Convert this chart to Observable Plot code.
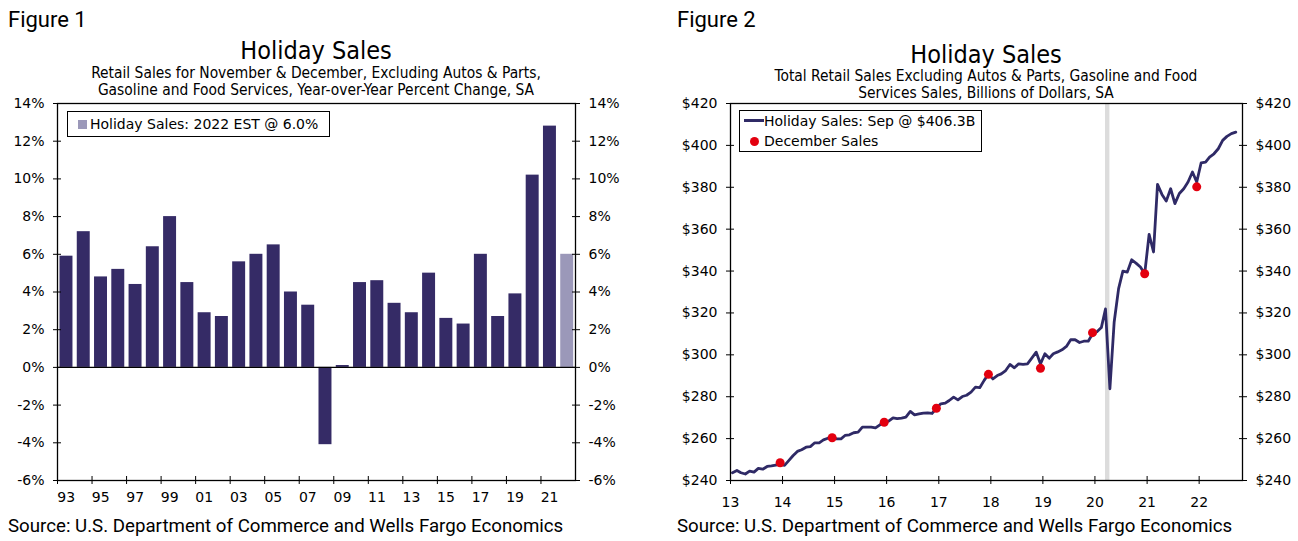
<!DOCTYPE html>
<html><head><meta charset="utf-8">
<script src="https://cdn.jsdelivr.net/npm/d3@7"></script>
<script src="https://cdn.jsdelivr.net/npm/@observablehq/plot@0.6"></script>
<style>
body{margin:0;background:#fff;}
#page{position:relative;width:1298px;height:541px;overflow:hidden;font-family:"DejaVu Sans",sans-serif;color:#000;background:#fff;}
.abs{position:absolute;white-space:nowrap;}
.fig{font-family:Roboto,"Noto Sans",sans-serif;font-size:22px;line-height:24px;}
.title{font-family:"DejaVu Sans Condensed","DejaVu Sans",sans-serif;font-stretch:condensed;font-size:25px;line-height:28px;text-align:center;transform:translateX(-50%);}
.sub{font-family:"DejaVu Sans Condensed","DejaVu Sans",sans-serif;font-stretch:condensed;font-size:15.4px;line-height:17px;text-align:center;transform:translateX(-50%);}
.src{font-family:Roboto,"Noto Sans",sans-serif;font-size:18.7px;line-height:22px;}
.legend{position:absolute;border:1px solid #000;background:#fff;font-family:"DejaVu Sans",sans-serif;font-size:14px;line-height:16px;box-sizing:border-box;}
.legend span{position:absolute;white-space:nowrap;}
svg{position:absolute;}
</style></head>
<body><div id="page"></div>
<script>
// ---------- Figure 1 data ----------
const fig1Years = [1993,1994,1995,1996,1997,1998,1999,2000,2001,2002,2003,2004,2005,2006,2007,2008,2009,2010,2011,2012,2013,2014,2015,2016,2017,2018,2019,2020,2021,2022];
const fig1Values = [5.9,7.2,4.8,5.2,4.4,6.4,8.0,4.5,2.9,2.7,5.6,6.0,6.5,4.0,3.3,-4.1,0.1,4.5,4.6,3.4,2.9,5.0,2.6,2.3,6.0,2.7,3.9,10.2,12.8,6.0];
const fig1EstimateYear = 2022;
const fig1YTicks = [-6,-4,-2,0,2,4,6,8,10,12,14];
const fig1XTickYears = [1993,1995,1997,1999,2001,2003,2005,2007,2009,2011,2013,2015,2017,2019,2021];

// ---------- Figure 2 data (monthly, Jan 2013 - Sep 2022) ----------
const fig2Start = [2013, 0];
const fig2Values = [
  243.7,244.8,243.7,243.1,244.5,244.0,245.8,245.4,246.7,247.0,247.4,247.7,
  247.2,249.6,251.8,253.9,254.7,255.9,256.2,258.0,258.0,259.4,260.2,260.7,
  259.9,259.9,261.5,261.8,262.8,263.1,265.5,265.5,265.5,265.1,266.6,267.9,
  268.3,269.9,269.5,269.8,270.3,273.0,271.3,271.8,272.2,272.3,272.0,274.5,
  276.6,276.9,278.2,279.8,278.5,280.1,280.7,282.2,284.6,284.3,287.8,290.8,
  288.5,290.1,290.9,292.5,295.4,293.8,295.7,295.4,295.7,298.4,301.3,295.7,
  300.5,298.4,300.5,301.4,302.4,304.0,307.2,307.2,305.9,306.5,306.5,310.0,
  311.0,313.0,321.9,283.8,315.7,331.6,340.0,339.5,345.4,343.8,341.9,338.7,
  357.5,349.1,381.4,376.6,373.4,379.3,372.2,377.0,379.3,382.5,387.3,382.5,
  391.7,392.0,394.4,396.0,398.4,402.4,404.3,405.6,406.3
];
const fig2DecYears = [2013,2014,2015,2016,2017,2018,2019,2020,2021];
const fig2DecValues = [248.5,260.4,267.8,274.5,290.7,293.6,310.6,338.7,380.2];
const fig2Recession = [[2020,2],[2020,3]]; // Mar 2020 - Apr 2020
const fig2YTicks = [240,260,280,300,320,340,360,380,400,420];
const fig2XTickYears = [2013,2014,2015,2016,2017,2018,2019,2020,2021,2022];
const fig2Domain = [[2013,0,1],[2022,10,1]];

const dark = "#352b66", light = "#9b98b9", navy = "#2f2a66", red = "#e3000f";

const page = document.getElementById("page");
function addDiv(cls, text, style) {
  const d = document.createElement("div");
  d.className = "abs " + cls;
  d.innerHTML = text;
  Object.assign(d.style, style);
  page.appendChild(d);
  return d;
}

// ---------- Figure 1 ----------
const bars = fig1Years.map((year, i) => ({year, value: fig1Values[i]}));
const axisStyle = {fontFamily: "DejaVu Sans", fontSize: 14};
const fig1 = Plot.plot({
  width: 649, height: 420,
  marginLeft: 57, marginRight: 74, marginTop: 13, marginBottom: 30,
  x: {domain: [fig1Years[0], fig1Years[fig1Years.length - 1] + 1], axis: null, label: null},
  y: {domain: [fig1YTicks[0], fig1YTicks[fig1YTicks.length - 1]], axis: null, label: null},
  style: {fontFamily: "DejaVu Sans", fontSize: "14px", color: "#000", background: "transparent", overflow: "visible"},
  marks: [
    Plot.rectY(bars, {x1: "year", x2: d => d.year + 1, y1: 0, y2: "value",
      fill: d => d.year === fig1EstimateYear ? light : dark, insetLeft: 2.5, insetRight: 1.8}),
    Plot.ruleY([0], {stroke: "#000", strokeWidth: 1.3}),
    Plot.frame({stroke: "#000", strokeWidth: 1.3}),
    Plot.axisY({ticks: fig1YTicks, anchor: "left", tickSize: 8, dx: 4, tickPadding: 9, tickFormat: d => d + "%", label: null, ...axisStyle}),
    Plot.axisY({ticks: fig1YTicks, anchor: "right", tickSize: 8, dx: -4, tickPadding: 9, tickFormat: d => d + "%", label: null, ...axisStyle}),
    Plot.axisX({ticks: fig1XTickYears, anchor: "bottom", tickSize: 8, dy: -4, tickFormat: () => "", label: null}),
    Plot.axisX({ticks: fig1XTickYears.map(y => y + 0.5), anchor: "bottom", tickSize: 0, tickPadding: 12,
      tickFormat: d => String(Math.floor(d)).slice(2), label: null, ...axisStyle})
  ]
});
fig1.style.left = "0px"; fig1.style.top = "90px";
page.appendChild(fig1);

addDiv("fig", "Figure 1", {left: "8px", top: "8px"});
addDiv("title", "Holiday Sales", {left: "316px", top: "37px"});
addDiv("sub", "Retail Sales for November &amp; December, Excluding Autos &amp; Parts,<br>Gasoline and Food Services, Year-over-Year Percent Change, SA", {left: "316px", top: "65px"});
addDiv("src", "Source: U.S. Department of Commerce and Wells Fargo Economics", {left: "8px", top: "515px"});

const leg1 = document.createElement("div");
leg1.className = "legend";
Object.assign(leg1.style, {left: "67px", top: "111px", width: "263px", height: "26px"});
leg1.innerHTML = `<span style="left:10px;top:8px;width:9px;height:9px;background:${light}"></span><span style="left:22px;top:4px;">Holiday Sales: ${fig1EstimateYear} EST @ ${fig1Values[fig1Values.length-1].toFixed(1)}%</span>`;
page.appendChild(leg1);

// ---------- Figure 2 ----------
const series = fig2Values.map((value, i) => ({date: new Date(Date.UTC(fig2Start[0], fig2Start[1] + i, 15)), value}));
const dec = fig2DecYears.map((y, i) => ({date: new Date(Date.UTC(y, 11, 15)), value: fig2DecValues[i]}));
const rec = [{start: new Date(Date.UTC(fig2Recession[0][0], fig2Recession[0][1], 15)), end: new Date(Date.UTC(fig2Recession[1][0], fig2Recession[1][1], 15))}];
const fig2 = Plot.plot({
  width: 649, height: 420,
  marginLeft: 81, marginRight: 56, marginTop: 13, marginBottom: 30,
  x: {type: "utc", domain: fig2Domain.map(d => new Date(Date.UTC(...d))), axis: null, label: null},
  y: {domain: [fig2YTicks[0], fig2YTicks[fig2YTicks.length - 1]], axis: null, label: null},
  style: {fontFamily: "DejaVu Sans", fontSize: "14px", color: "#000", background: "transparent", overflow: "visible"},
  marks: [
    Plot.rect(rec, {x1: "start", x2: "end", y1: () => fig2YTicks[0], y2: () => fig2YTicks[fig2YTicks.length - 1], fill: "#dcdcdc"}),
    Plot.line(series, {x: "date", y: "value", stroke: navy, strokeWidth: 2.8, strokeLinejoin: "round"}),
    Plot.dot(dec, {x: "date", y: "value", r: 4.5, fill: red, stroke: "none"}),
    Plot.frame({stroke: "#000", strokeWidth: 1.3}),
    Plot.axisY({ticks: fig2YTicks, anchor: "left", tickSize: 8, dx: 4, tickPadding: 9, tickFormat: d => "$" + d, label: null, ...axisStyle}),
    Plot.axisY({ticks: fig2YTicks, anchor: "right", tickSize: 8, dx: -4, tickPadding: 9, tickFormat: d => "$" + d, label: null, ...axisStyle}),
    Plot.axisX({ticks: fig2XTickYears.map(y => new Date(Date.UTC(y, 0, 1))), anchor: "bottom", tickSize: 8, dy: -4, tickPadding: 13,
      tickFormat: d => String(d.getUTCFullYear()).slice(2), label: null, ...axisStyle})
  ]
});
fig2.style.left = "649px"; fig2.style.top = "90px";
page.appendChild(fig2);

addDiv("fig", "Figure 2", {left: "677px", top: "8px"});
addDiv("title", "Holiday Sales", {left: "986px", top: "41px"});
addDiv("sub", "Total Retail Sales Excluding Autos &amp; Parts, Gasoline and Food<br>Services Sales, Billions of Dollars, SA", {left: "986px", top: "68px"});
addDiv("src", "Source: U.S. Department of Commerce and Wells Fargo Economics", {left: "677px", top: "515px"});

const last = series[series.length - 1];
const monthName = d3.utcFormat("%b")(last.date);
const leg2 = document.createElement("div");
leg2.className = "legend";
Object.assign(leg2.style, {left: "739px", top: "110px", width: "243px", height: "42px"});
leg2.innerHTML = `<span style="left:4px;top:8px;width:20px;height:3px;background:${navy}"></span>`
  + `<span style="left:24px;top:2px;">Holiday Sales: ${monthName} @ $${last.value.toFixed(1)}B</span>`
  + `<span style="left:10px;top:26px;width:9px;height:9px;border-radius:50%;background:${red}"></span>`
  + `<span style="left:24px;top:22px;">December Sales</span>`;
page.appendChild(leg2);
</script></body></html>
